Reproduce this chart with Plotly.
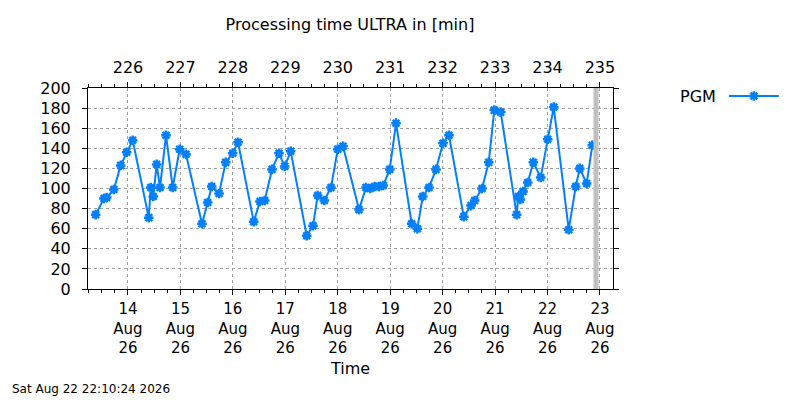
import plotly.graph_objects as go

# run timestamps and processing time [min]
times = ["2026-08-13 09:12", "2026-08-13 13:00", "2026-08-13 14:15", "2026-08-13 17:30", "2026-08-13 20:40", "2026-08-13 23:24",
         "2026-08-14 02:09", "2026-08-14 09:30", "2026-08-14 10:24", "2026-08-14 11:35", "2026-08-14 13:08", "2026-08-14 14:39",
         "2026-08-14 17:24", "2026-08-14 20:27", "2026-08-14 23:40",
         "2026-08-15 02:33", "2026-08-15 09:52", "2026-08-15 12:28", "2026-08-15 14:18", "2026-08-15 17:39", "2026-08-15 20:43",
         "2026-08-15 23:55",
         "2026-08-16 02:21", "2026-08-16 09:32", "2026-08-16 12:25", "2026-08-16 14:34", "2026-08-16 17:54", "2026-08-16 21:06",
         "2026-08-16 23:43",
         "2026-08-17 02:28", "2026-08-17 09:47", "2026-08-17 12:40", "2026-08-17 14:49", "2026-08-17 17:50", "2026-08-17 20:54",
         "2026-08-18 00:00", "2026-08-18 02:24", "2026-08-18 09:43", "2026-08-18 12:56", "2026-08-18 14:54", "2026-08-18 16:54",
         "2026-08-18 18:52", "2026-08-18 20:50", "2026-08-18 23:47",
         "2026-08-19 02:40", "2026-08-19 09:50", "2026-08-19 12:25", "2026-08-19 14:53", "2026-08-19 17:46", "2026-08-19 20:57",
         "2026-08-20 00:10", "2026-08-20 02:54", "2026-08-20 09:39", "2026-08-20 12:59", "2026-08-20 14:40", "2026-08-20 18:01",
         "2026-08-20 21:05", "2026-08-20 23:38",
         "2026-08-21 02:34", "2026-08-21 09:53", "2026-08-21 10:38", "2026-08-21 11:33", "2026-08-21 12:47", "2026-08-21 14:56",
         "2026-08-21 17:30", "2026-08-21 20:53",
         "2026-08-22 00:05", "2026-08-22 02:50", "2026-08-22 09:42", "2026-08-22 12:55", "2026-08-22 14:45", "2026-08-22 17:55",
         "2026-08-22 20:29"]
pgm = [74, 90, 91, 99, 123, 136,
       148, 71, 101, 92, 124, 101, 153, 101, 139,
       134, 65, 86, 102, 95, 126, 135,
       146, 67, 87, 88, 119, 135, 122,
       137, 53, 63, 93, 88, 101,
       139, 142, 79, 101, 100, 102, 102, 103, 119,
       165, 65, 60, 92, 101, 119,
       145, 153, 72, 83, 88, 100, 126, 178,
       176, 74, 92, 89, 97, 106, 126, 111,
       149, 181, 59, 102, 120, 105, 143]

day_ticks = ["2026-08-%02d" % d for d in range(14, 24)]
day_labels = ["%d<br>Aug<br>26" % d for d in range(14, 24)]
doy_labels = [str(n) for n in range(226, 236)]
now = "2026-08-22 22:10:24"
now_label = "Sat Aug 22 22:10:24 2026"
x_range = ["2026-08-13 05:42", "2026-08-23 05:58"]

blue = "#0080ff"
font = "DejaVu Sans"

# the page body adds an 8px margin, so the figure is 8px smaller each way
W, H = 792, 392

fig = go.Figure()
fig.add_trace(go.Scatter(
    x=times, y=pgm, name="PGM", mode="lines+markers",
    line=dict(color=blue, width=2),
    marker=dict(symbol="asterisk-open", size=8, line=dict(color=blue, width=2.5)),
))
# same series on the day-of-year axis so the top axis gets drawn
fig.add_trace(go.Scatter(x=times, y=pgm, xaxis="x2", mode="none",
                         showlegend=False, hoverinfo="skip"))

# current time marker
fig.add_shape(type="line", xref="x", yref="paper", x0=now, x1=now, y0=0, y1=1,
              line=dict(color="#c0c0c0", width=5), layer="above")

axis_common = dict(
    type="date", range=x_range, tickmode="array", tickvals=day_ticks,
    ticks="outside", ticklen=5, tickcolor="black",
    showline=True, linecolor="black", linewidth=1, automargin=False,
    minor=dict(tickmode="linear", tick0="2026-08-13", dtick=6 * 3600 * 1000,
               ticks="outside", ticklen=3, tickcolor="black", showgrid=False),
)

fig.update_layout(
    width=W, height=H,
    paper_bgcolor="white", plot_bgcolor="white",
    margin=dict(l=80, r=187, t=80, b=111, autoexpand=False),
    font=dict(family=font, size=16, color="black"),
    title=dict(text="Processing time ULTRA in [min]", x=342 / W, xanchor="center",
               y=1 - 16 / H, yanchor="middle", font=dict(family=font, size=16)),
    xaxis=dict(**axis_common, ticktext=day_labels, showgrid=True, gridcolor="#a0a0a0",
               griddash="3px,3px", gridwidth=1, mirror=False, ticklabelstandoff=1,
               tickfont=dict(family=font, size=15, color="black"),
               title=dict(text="Time", font=dict(family=font, size=16), standoff=6)),
    xaxis2=dict(**axis_common, ticktext=doy_labels, overlaying="x", side="top",
                anchor="y", showgrid=False, ticklabelstandoff=3,
                tickfont=dict(family=font, size=16, color="black")),
    yaxis=dict(range=[0, 200], dtick=20, ticks="outside", ticklen=5, tickcolor="black",
               showline=True, linecolor="black", linewidth=1, mirror="ticks",
               showgrid=True, gridcolor="#a0a0a0", griddash="3px,3px", gridwidth=1,
               zeroline=False, ticklabelstandoff=8, automargin=False,
               tickfont=dict(family=font, size=16, color="black")),
    legend=dict(x=(678 - 88) / 525, xanchor="left", y=(289 - 97) / 201, yanchor="middle",
                title=dict(text="PGM", side="left", font=dict(family=font, size=16, color="black")),
                font=dict(family=font, size=1, color="rgba(0,0,0,0)"),
                bgcolor="rgba(0,0,0,0)", itemwidth=50),
    showlegend=True,
    annotations=[dict(text=now_label, xref="paper", yref="paper",
                      x=(10 - 88) / 525, xanchor="left", y=(289 - 389) / 201, yanchor="middle",
                      showarrow=False, font=dict(family=font, size=12, color="black"))],
)

fig.write_html("out.html")
